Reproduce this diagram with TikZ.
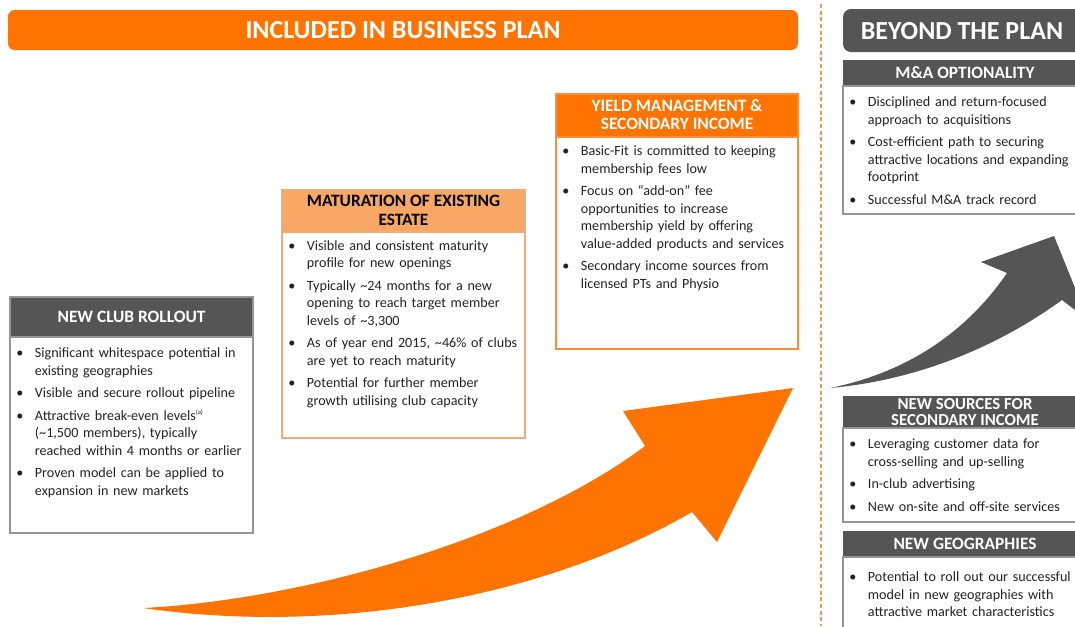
\documentclass[tikz,border=0pt]{standalone}
\usepackage{fontspec}
\setmainfont{Carlito}
\definecolor{bforange}{RGB}{255,115,0}
\definecolor{bflight}{RGB}{249,167,100}
\definecolor{bfgrey}{RGB}{85,85,85}
\definecolor{bftext}{RGB}{35,35,35}
\definecolor{bfline}{RGB}{150,150,150}
\definecolor{bfolight}{RGB}{244,172,115}
\definecolor{bfoline}{RGB}{246,142,60}
\definecolor{bfdash}{RGB}{240,150,85}

% bullet list used inside the boxes
\newenvironment{blist}{%
  \begin{list}{\textbullet}{%
    \setlength\leftmargin{14pt}\setlength\labelwidth{5pt}%
    \setlength\labelsep{9pt}\setlength\itemindent{0pt}%
    \setlength\itemsep{3.8pt}\setlength\parsep{0pt}%
    \setlength\topsep{0pt}\setlength\partopsep{0pt}%
    \renewcommand\makelabel[1]{\hbox to \labelwidth{##1\hss}}}}%
  {\end{list}}

\begin{document}
\begin{tikzpicture}[x=0.75pt,y=-0.75pt,
  hdgrey/.style={fill=bfgrey},
  hdorange/.style={fill=bforange},
  hdlight/.style={fill=bflight},
  greybody/.style={draw=bfline,line width=0.9pt,fill=white},
  obody/.style={draw=bfoline,line width=0.9pt,fill=white},
  lbody/.style={draw=bfolight,line width=0.9pt,fill=white},
  hdtxt/.style={text=white,font=\bfseries\fontsize{13}{14}\selectfont,align=center,inner sep=0pt},
  hdtxtdark/.style={text=black,font=\bfseries\fontsize{13}{14}\selectfont,align=center,inner sep=0pt},
  bannertxt/.style={text=white,font=\bfseries\fontsize{19.5}{21}\selectfont,inner sep=0pt},
  bodytxt/.style={anchor=north west,inner sep=0pt,align=left,text=bftext,
     font=\fontsize{10.6}{13.1}\selectfont}]
\useasboundingbox (0,0) rectangle (1075,626);
\fill[white] (0,0) rectangle (1075,626);
\begin{scope}
\clip (0,0) rectangle (1075,626);

% ---- banners ----
\fill[bforange,rounded corners=5pt] (8,10) rectangle (798,50);
\node[bannertxt] (inplan) at (403,30) {INCLUDED IN BUSINESS PLAN};
\fill[bfgrey,rounded corners=6pt] (843,9) rectangle (1095,52);
\node[bannertxt] (beyond) at (962,31) {BEYOND THE PLAN};

% ---- separator ----
\draw[bfdash,line width=0.9pt,dash pattern=on 3pt off 2pt] (821,4) -- (821,626);

% ---- growth arrows ----
\fill[bforange] (143,608) .. controls (300,600) and (520,540) .. (645,446)
  -- (623,411) -- (793,388) -- (717,542) -- (692,512)
  .. controls (540,600) and (330,635) .. (143,608) -- cycle;
\fill[bfgrey] (830,388) .. controls (920,370) and (975,320) .. (1007,273)
  -- (981,262) -- (1054,236) -- (1088,320) -- (1062,300)
  .. controls (1000,345) and (920,380) .. (830,388) -- cycle;

% ---- new club rollout ----
\fill[hdgrey] (10,297) rectangle (253,337);
\draw[greybody] (10,337) rectangle (253,533);
\draw[bfline,line width=0.9pt] (10,297) rectangle (253,533);
\node[hdtxt] (h1) at (131.5,317) {NEW CLUB ROLLOUT};
\node[bodytxt,text width=185pt] (b1) at (16,340) {\begin{blist}
  \item Significant whitespace potential in\\ existing geographies
  \item Visible and secure rollout pipeline
  \item Attractive break-even levels\textsuperscript{\tiny (a)}\\ (\textasciitilde 1,500 members), typically\\ reached within 4 months or earlier
  \item Proven model can be applied to\\ expansion in new markets
\end{blist}};

% ---- maturation of existing estate ----
\fill[hdlight] (282,190) rectangle (525,232);
\draw[lbody] (282,232) rectangle (525,438);
\draw[bfolight,line width=0.9pt] (282,190) rectangle (525,438);
\node[hdtxtdark] (h2) at (403.5,210.5) {MATURATION OF EXISTING\\ ESTATE};
\node[bodytxt,text width=185pt] (b2) at (288,232.5) {\begin{blist}
  \item Visible and consistent maturity\\ profile for new openings
  \item Typically \textasciitilde 24 months for a new\\ opening to reach target member\\ levels of \textasciitilde 3,300
  \item As of year end 2015, \textasciitilde 46\% of clubs\\ are yet to reach maturity
  \item Potential for further member\\ growth utilising club capacity
\end{blist}};

% ---- yield management ----
\fill[hdorange] (556,94) rectangle (798,137);
\draw[obody] (556,137) rectangle (798,349);
\draw[bfoline,line width=0.9pt] (556,94) rectangle (798,349);
\node[hdtxt] (h3) at (677,114.5) {YIELD MANAGEMENT \&\\ SECONDARY INCOME};
\node[bodytxt,text width=185pt] (b3) at (562,138) {\begin{blist}
  \item Basic-Fit is committed to keeping\\ membership fees low
  \item Focus on “add-on” fee\\ opportunities to increase\\ membership yield by offering\\ value-added products and services
  \item Secondary income sources from\\ licensed PTs and Physio
\end{blist}};

% ---- M&A optionality ----
\fill[hdgrey] (843,60) rectangle (1095,86);
\draw[greybody] (843,86) rectangle (1095,214);
\node[hdtxt] (h4) at (965,73) {M\&A OPTIONALITY};
\node[bodytxt,text width=185pt] (b4) at (849,89) {\begin{blist}
  \item Disciplined and return-focused\\ approach to acquisitions
  \item Cost-efficient path to securing\\ attractive locations and expanding\\ footprint
  \item Successful M\&A track record
\end{blist}};

% ---- new sources for secondary income ----
\fill[hdgrey] (843,396) rectangle (1095,428);
\draw[greybody] (843,428) rectangle (1095,522);
\node[hdtxt,font=\bfseries\fontsize{12.6}{11.8}\selectfont] (h5) at (965,412)
  {NEW SOURCES FOR\\ SECONDARY INCOME};
\node[bodytxt,text width=185pt] (b5) at (849,431) {\begin{blist}
  \item Leveraging customer data for\\ cross-selling and up-selling
  \item In-club advertising
  \item New on-site and off-site services
\end{blist}};

% ---- new geographies ----
\fill[hdgrey] (843,531) rectangle (1095,557);
\draw[greybody] (843,557) rectangle (1095,640);
\node[hdtxt] (h6) at (965,544) {NEW GEOGRAPHIES};
\node[bodytxt,text width=185pt] (b6) at (849,564) {\begin{blist}
  \item Potential to roll out our successful\\ model in new geographies with\\ attractive market characteristics
\end{blist}};
\end{scope}
\end{tikzpicture}
\end{document}
